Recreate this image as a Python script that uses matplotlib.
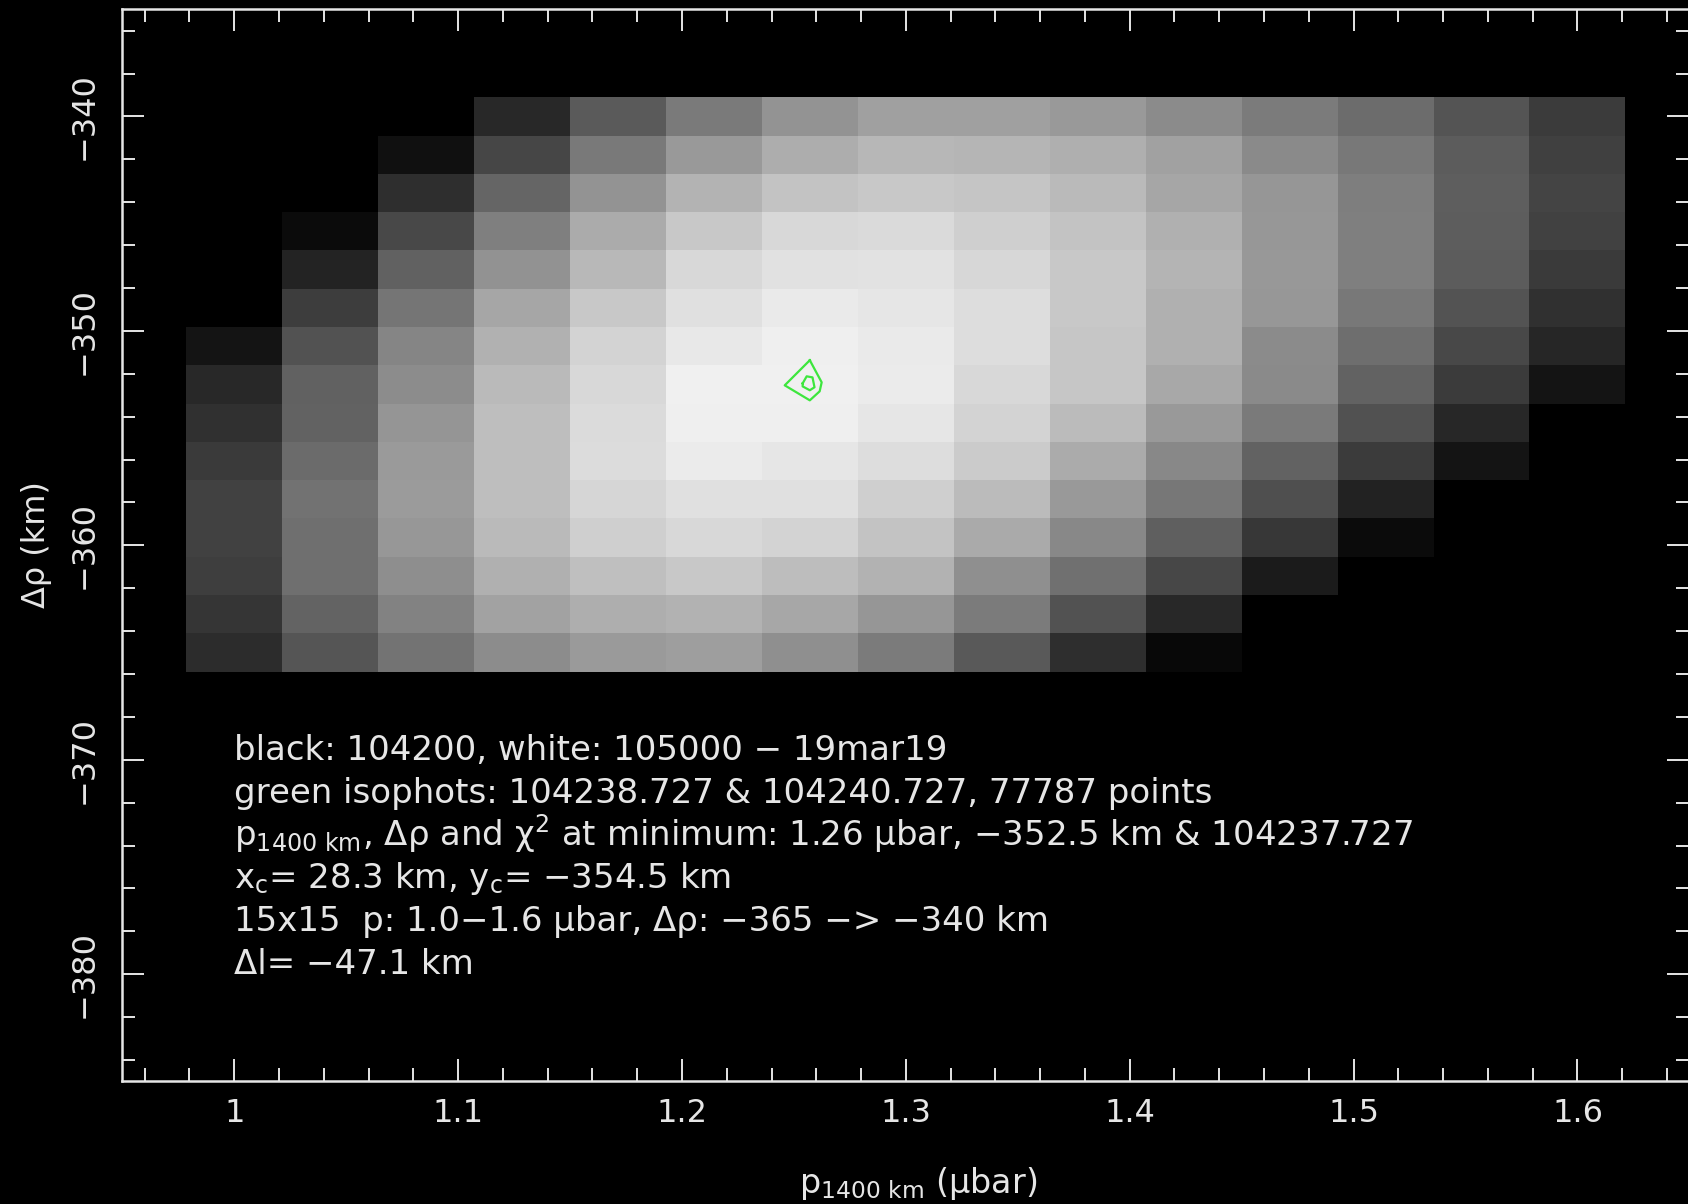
import numpy as np
import matplotlib
matplotlib.use("Agg")
import matplotlib.pyplot as plt
from matplotlib.ticker import MultipleLocator, FuncFormatter

plt.rcParams['font.family'] = ['DejaVu Sans']
plt.rcParams['mathtext.default'] = 'regular'
plt.rcParams['axes.unicode_minus'] = True

# 15x15 grid of the scan
p_min, p_max = 1.0, 1.6          # microbar
dr_min, dr_max = -365.0, -340.0  # km
n_grid = 15

# display shade of each grid cell (0 = black, 255 = white), first row at -340 km
shade = [
    [0, 0, 0, 40, 90, 122, 147, 160, 160, 153, 139, 123, 108, 84, 59],
    [0, 0, 16, 70, 121, 153, 173, 183, 181, 175, 161, 138, 120, 92, 64],
    [0, 0, 46, 101, 147, 179, 195, 200, 197, 186, 166, 150, 126, 94, 68],
    [0, 11, 72, 127, 171, 200, 216, 218, 207, 195, 176, 151, 127, 93, 65],
    [0, 35, 97, 146, 184, 216, 225, 226, 215, 200, 180, 152, 127, 92, 58],
    [0, 61, 117, 166, 200, 224, 234, 230, 221, 200, 176, 151, 120, 83, 48],
    [20, 82, 133, 177, 211, 232, 239, 234, 221, 198, 176, 139, 110, 72, 38],
    [40, 97, 140, 186, 216, 240, 240, 235, 216, 198, 168, 138, 98, 59, 20],
    [48, 98, 149, 190, 219, 239, 239, 230, 211, 187, 153, 122, 81, 39, 0],
    [58, 107, 154, 190, 220, 235, 230, 221, 203, 171, 136, 98, 59, 20, 0],
    [65, 114, 155, 190, 214, 224, 224, 207, 187, 153, 119, 79, 34, 0, 0],
    [65, 111, 151, 186, 207, 216, 211, 195, 170, 136, 95, 55, 11, 0, 0],
    [62, 111, 142, 176, 191, 200, 189, 178, 143, 112, 71, 27, 0, 0, 0],
    [53, 99, 130, 162, 174, 178, 167, 150, 123, 82, 40, 0, 0, 0, 0],
    [44, 85, 115, 140, 154, 158, 143, 123, 89, 46, 8, 0, 0, 0, 0],
]

# green isophots around the minimum (p in microbar, delta-rho in km)
iso_outer_p = [1.2571, 1.2624, 1.2615, 1.2571, 1.2459, 1.2571]
iso_outer_dr = [-351.37, -352.40, -352.82, -353.24, -352.54, -351.37]
iso_inner_p = [1.2539, 1.2557, 1.2583, 1.2592, 1.2571, 1.2539, 1.2539]
iso_inner_dr = [-352.45, -352.12, -352.17, -352.63, -352.77, -352.59, -352.45]

info_lines = [
    "black: 104200, white: 105000 \u2212 19mar19",
    "green isophots: 104238.727 & 104240.727, 77787 points",
    "p$_{1400\\ km}$, \u0394\u03c1 and \u03c7$^{2}$ at minimum: 1.26 \u00b5bar, \u2212352.5 km & 104237.727",
    "x$_{c}$= 28.3 km, y$_{c}$= \u2212354.5 km",
    "15x15  p: 1.0\u22121.6 \u00b5bar, \u0394\u03c1: \u2212365 \u2212> \u2212340 km",
    "\u0394l= \u221247.1 km",
]
info_x = 1.0
info_y = [-370, -372, -374, -376, -378, -380]

fg = '#e6e6e6'
W, H = 1688, 1204
fig = plt.figure(figsize=(W / 100, H / 100), dpi=100, facecolor='black')
ax = fig.add_axes([122.3 / W, 1 - 1081.4 / H, (1689.4 - 122.3) / W, (1081.4 - 9.2) / H])
ax.set_facecolor('black')

p_vals = np.linspace(p_min, p_max, n_grid)
dr_vals = np.linspace(dr_max, dr_min, n_grid)
ax.pcolormesh(p_vals, dr_vals, np.array(shade, dtype=float), cmap='gray',
              vmin=0, vmax=255, shading='nearest')

iso_color = '#3de63d'
ax.plot(iso_outer_p, iso_outer_dr, color=iso_color, lw=1.6)
ax.plot(iso_inner_p, iso_inner_dr, color=iso_color, lw=1.6)

ax.set_xlim(0.95, 1.65)
ax.set_ylim(-385, -335)


def tick_fmt(v, pos):
    return ('%g' % round(v, 6)).replace('-', '\u2212')


ax.xaxis.set_major_locator(MultipleLocator(0.1))
ax.xaxis.set_minor_locator(MultipleLocator(0.02))
ax.yaxis.set_major_locator(MultipleLocator(10))
ax.yaxis.set_minor_locator(MultipleLocator(2))
ax.xaxis.set_major_formatter(FuncFormatter(tick_fmt))
ax.yaxis.set_major_formatter(FuncFormatter(tick_fmt))

for s in ax.spines.values():
    s.set_color(fg)
    s.set_linewidth(1.8)
ax.tick_params(which='both', direction='in', top=True, right=True,
               color=fg, labelcolor=fg, width=1.4, labelsize=23)
ax.tick_params(which='major', length=16)
ax.tick_params(which='minor', length=9.5)
ax.tick_params(axis='x', pad=12)
ax.tick_params(axis='y', pad=16)
for lab in ax.get_yticklabels():
    lab.set_rotation(90)
    lab.set_va('center')
    lab.set_ha('right')

for txt, y in zip(info_lines, info_y):
    ax.text(info_x, y, txt, color=fg, fontsize=24.5, ha='left', va='baseline')

fig.text(918 / W, 1 - 1183 / H, "p$_{1400\\ km}$ (\u00b5bar)", color=fg,
         fontsize=24, ha='center', va='center')
fig.text(36 / W, 1 - 545 / H, "\u0394\u03c1 (km)", color=fg, fontsize=23,
         ha='center', va='center', rotation=90)

fig.savefig('out.png', dpi=100, facecolor='black')
